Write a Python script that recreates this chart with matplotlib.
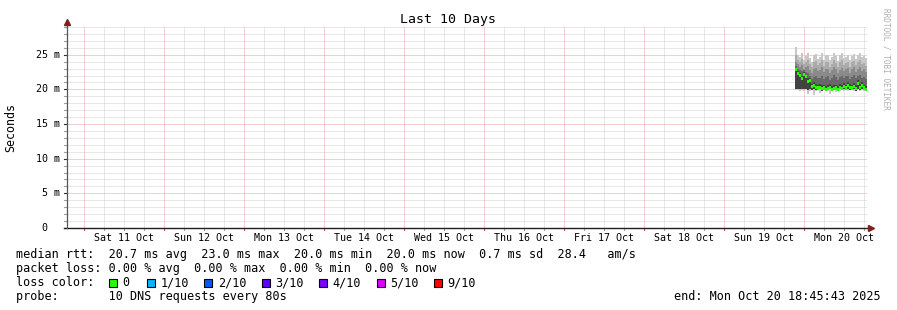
import datetime as dt
import matplotlib
matplotlib.use("Agg")
import matplotlib.pyplot as plt
import matplotlib.dates as mdates
from matplotlib.patches import Rectangle
import numpy as np

# ---------------- data ----------------
t_start = dt.datetime(2025, 10, 10, 18, 45, 43)
t_end = dt.datetime(2025, 10, 20, 18, 45, 43)
data_start = dt.datetime(2025, 10, 19, 21, 9, 43)
step_min = 36  # consolidated column width in minutes

median = [22.9, 22.3, 22.0, 21.6, 22.2, 21.8, 21.2, 21.3, 20.4, 20.6, 20.3, 20.2,
          20.3, 20.1, 20.2, 20.0, 20.1, 20.3, 20.0, 20.1, 20.2, 20.0, 20.3, 20.1,
          20.4, 20.2, 20.5, 20.3, 20.2, 20.4, 20.1, 20.9, 20.3, 20.5, 20.2, 20.0]
ping_max = [26.1, 25.0, 24.6, 25.2, 24.3, 24.8, 25.3, 24.5, 24.0, 24.9, 25.1, 24.4,
            24.7, 25.2, 24.2, 24.9, 25.0, 24.3, 24.6, 25.2, 24.8, 24.1, 24.9, 25.3,
            24.5, 24.7, 25.0, 24.2, 24.8, 25.1, 24.4, 24.9, 25.2, 24.6, 24.8, 24.5]
ping_9 = [25.0, 24.2, 23.9, 24.4, 23.6, 24.0, 24.3, 23.7, 23.2, 23.9, 24.1, 23.5,
          23.8, 24.2, 23.4, 23.9, 24.0, 23.3, 23.7, 24.3, 23.8, 23.2, 23.9, 24.2,
          23.5, 23.8, 24.0, 23.3, 23.9, 24.1, 23.5, 23.9, 24.2, 23.6, 23.8, 23.4]
ping_8 = [24.0, 23.6, 23.3, 23.5, 23.0, 23.2, 23.4, 22.8, 22.3, 22.9, 23.1, 22.6,
          22.8, 23.2, 22.5, 22.9, 23.0, 22.4, 22.8, 23.3, 22.9, 22.3, 22.8, 23.1,
          22.6, 22.9, 23.1, 22.4, 22.9, 23.2, 22.5, 22.9, 23.2, 22.7, 22.9, 22.5]
ping_7 = [23.4, 23.0, 22.8, 22.6, 22.8, 22.5, 22.3, 22.0, 21.5, 21.8, 21.9, 21.6,
          21.7, 22.0, 21.5, 21.8, 21.9, 21.4, 21.7, 22.1, 21.8, 21.3, 21.8, 22.0,
          21.6, 21.9, 22.0, 21.5, 21.8, 22.1, 21.6, 22.0, 22.1, 21.7, 21.8, 21.5]
ping_6 = [23.1, 22.6, 22.3, 22.0, 22.5, 22.1, 21.6, 21.6, 20.8, 21.0, 20.8, 20.7,
          20.8, 20.6, 20.7, 20.5, 20.6, 20.8, 20.5, 20.6, 20.7, 20.5, 20.8, 20.6,
          20.9, 20.7, 21.0, 20.8, 20.7, 20.9, 20.6, 21.3, 20.8, 21.0, 20.7, 20.5]
ping_4 = [20.1, 20.0, 20.1, 20.0, 20.1, 20.0, 19.9, 20.0, 19.9, 20.0, 19.9, 19.9,
          20.0, 19.8, 19.9, 19.8, 19.9, 20.0, 19.8, 19.9, 19.9, 19.8, 20.0, 19.9,
          20.0, 19.9, 20.0, 19.9, 19.9, 20.0, 19.8, 20.0, 19.9, 20.0, 19.9, 19.8]
ping_min = [19.9, 19.9, 19.8, 19.9, 19.8, 19.9, 19.3, 19.8, 19.9, 19.2, 19.8, 19.9,
            19.5, 19.8, 19.9, 19.7, 19.8, 19.4, 19.8, 19.9, 19.6, 19.9, 19.8, 19.9,
            19.7, 19.9, 19.8, 19.9, 19.9, 19.8, 19.9, 19.9, 19.8, 19.9, 19.8, 19.9]

day_labels = ["Sat 11 Oct", "Sun 12 Oct", "Mon 13 Oct", "Tue 14 Oct", "Wed 15 Oct",
              "Thu 16 Oct", "Fri 17 Oct", "Sat 18 Oct", "Sun 19 Oct", "Mon 20 Oct"]
y_ticks = [0, 5, 10, 15, 20, 25]
y_labels = ["0  ", "5 m", "10 m", "15 m", "20 m", "25 m"]
y_max = 29

loss_labels = ["0", "1/10", "2/10", "3/10", "4/10", "5/10", "9/10"]
loss_colors = ["#26ff00", "#00b8ff", "#0059ff", "#5e00ff", "#7e00ff", "#dd00ff", "#ff0000"]

line_rtt = "median rtt:  20.7 ms avg  23.0 ms max  20.0 ms min  20.0 ms now  0.7 ms sd  28.4   am/s"
line_loss = "packet loss: 0.00 % avg  0.00 % max  0.00 % min  0.00 % now"
line_probe = "probe:       10 DNS requests every 80s"
line_end = "end: Mon Oct 20 18:45:43 2025"

# ---------------- figure ----------------
W, H = 897, 310
fig = plt.figure(figsize=(W / 100, H / 100), dpi=100)
mono = "DejaVu Sans Mono"

def fx(px):
    return px / W

def fy(py):
    return 1 - py / H

ax = fig.add_axes([fx(67), fy(228), 800 / W, 201 / H])
ax.set_facecolor("white")
for s in ax.spines.values():
    s.set_visible(False)

x0 = mdates.date2num(t_start)
x1 = mdates.date2num(t_end)
ax.set_xlim(x0, x1)
ax.set_ylim(0, y_max)

# grid (dotted)
day0 = dt.datetime(2025, 10, 10)
minor_x = [mdates.date2num(day0 + dt.timedelta(hours=6 * k)) for k in range(0, 45)]
major_x = [mdates.date2num(day0 + dt.timedelta(days=k)) for k in range(1, 11)]
dash = (0, (1, 1))
gkw = dict(lw=0.72, ls=dash)
for v in minor_x:
    if x0 < v < x1 and v not in major_x:
        ax.axvline(v, color="#d0d0d0", zorder=0, **gkw)
for yv in range(1, y_max + 1):
    if yv % 5:
        ax.axhline(yv, color="#d0d0d0", zorder=0, **gkw)
for v in major_x:
    ax.axvline(v, color="#e8a0a0", zorder=0.5, **gkw)
for yv in y_ticks[1:]:
    ax.axhline(yv, color="#e8a0a0", zorder=0.5, **gkw)

# smoke
n = len(median)
starts = np.array([mdates.date2num(data_start + dt.timedelta(minutes=step_min * i))
                   for i in range(n)])
width = step_min / (24 * 60)
pmin = np.array(ping_min); p4 = np.array(ping_4); p6 = np.array(ping_6)
p7 = np.array(ping_7); p8 = np.array(ping_8); p9 = np.array(ping_9); pmax = np.array(ping_max)
med = np.array(median)

layers = [
    (pmin, pmax, "#c8c8c8"),
    (p4, p9, "#aaaaaa"),
    (p4, p8, "#8a8a8a"),
    (p4, p7, "#686868"),
    (p4, p6, "#424242"),
]
edges = np.append(starts, starts[-1] + width)
for lo, hi, c in layers:
    ax.fill_between(edges, np.append(lo, lo[-1]), np.append(hi, hi[-1]), step="post",
                    color=c, linewidth=0, antialiased=False, zorder=2)
ax.fill_between(edges, np.append(med, med[-1]) - 0.22, np.append(med, med[-1]) + 0.22,
                step="post", color=loss_colors[0], linewidth=0, antialiased=False, zorder=3)

# ticks / labels
ax.set_xticks([])
ax.set_yticks([])
for v in minor_x:
    if x0 < v < x1:
        col = "#d05050" if v in major_x else "#a0a0a0"
        ax.plot([v, v], [-2.2 / 6.93, 0], color=col, lw=0.8, clip_on=False, zorder=4)
noon = [mdates.date2num(day0 + dt.timedelta(days=k, hours=12)) for k in range(1, 11)]
for v, lab in zip(noon, day_labels):
    ax.text(v, -10.3 / 6.93, lab, ha="center", va="center", fontsize=7.2,
            family=mono, color="black")
for yv, lab in zip(y_ticks, y_labels):
    ax.text(-7 / 800, yv, lab, transform=ax.get_yaxis_transform(), ha="right",
            va="center", fontsize=7.2, family=mono, color="black")
for yv in range(0, y_max + 1):
    ax.plot([-3 / 800, 0], [yv, yv], transform=ax.get_yaxis_transform(),
            color="#303030" if yv % 5 == 0 else "#a0a0a0", lw=0.8, clip_on=False)

# axes lines and arrows
ax.plot([-3 / 800, 1.004], [0, 0], transform=ax.transAxes, color="#1f1f1f",
        lw=1.0, clip_on=False, zorder=5)
ax.plot([0, 0], [0, 1.01], transform=ax.transAxes, color="#555555",
        lw=0.9, clip_on=False, zorder=5)
ax.plot([1.0045], [0], transform=ax.transAxes, marker=">", ms=4.2, color="#7f1f1f",
        mec="#7f1f1f", clip_on=False, zorder=6)
ax.plot([0], [1.024], transform=ax.transAxes, marker="^", ms=4.2, color="#7f1f1f",
        mec="#7f1f1f", clip_on=False, zorder=6)

# title, y label, watermark
fig.text(fx(448), fy(20), "Last 10 Days", ha="center", va="center",
         fontsize=9.5, family=mono, color="black")
fig.text(fx(11), fy(127), "Seconds", rotation=90, ha="center", va="center",
         fontsize=8.4, family=mono, color="black")
fig.text(fx(886), fy(59), "RRDTOOL / TOBI OETIKER", rotation=270, ha="center",
         va="center", fontsize=5.6, family=mono, color="#b0b0b0")

# legend
fs = 8.5
fig.text(fx(16), fy(254.3), line_rtt, ha="left", va="center", fontsize=fs, family=mono)
fig.text(fx(16), fy(268.3), line_loss, ha="left", va="center", fontsize=fs, family=mono)
fig.text(fx(16), fy(282.7), "loss color:", ha="left", va="center", fontsize=fs, family=mono)
xpos = 108.5
for lab, col in zip(loss_labels, loss_colors):
    fig.patches.append(Rectangle((fx(xpos), fy(286.7)), 8 / W, 8 / H,
                                 transform=fig.transFigure, facecolor=col,
                                 edgecolor="black", linewidth=0.8))
    fig.text(fx(xpos + 13.5), fy(282.7), lab, ha="left", va="center", fontsize=fs,
             family=mono)
    xpos += 13.5 + len(lab) * 6.3 + 18.7
fig.text(fx(16), fy(296.7), line_probe, ha="left", va="center", fontsize=fs, family=mono)
fig.text(fx(881), fy(296.7), line_end, ha="right", va="center", fontsize=fs, family=mono)

fig.savefig("out.png", dpi=100, facecolor="white")
